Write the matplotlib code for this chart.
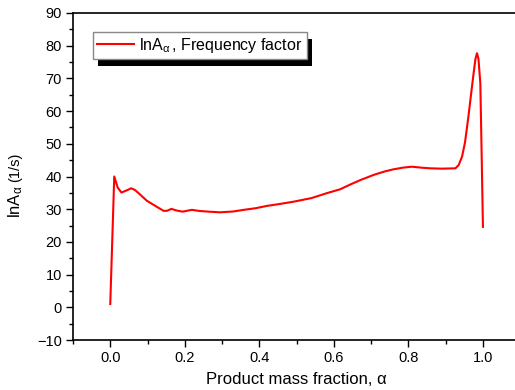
import matplotlib
matplotlib.use("Agg")
import matplotlib.pyplot as plt
from matplotlib.ticker import MultipleLocator, FormatStrFormatter
from matplotlib.patches import Rectangle

plt.rcParams['font.family'] = ['Liberation Sans', 'DejaVu Sans']
plt.rcParams['mathtext.fontset'] = 'custom'
plt.rcParams['mathtext.rm'] = 'Liberation Sans'
plt.rcParams['mathtext.it'] = 'Liberation Sans'

alpha = [0.0, 0.0107, 0.02, 0.03, 0.045, 0.056, 0.066, 0.076, 0.098, 0.121,
         0.143, 0.152, 0.164, 0.178, 0.194, 0.219, 0.24, 0.264, 0.295, 0.33,
         0.358, 0.39, 0.42, 0.455, 0.492, 0.54, 0.581, 0.617, 0.645, 0.671,
         0.707, 0.735, 0.76, 0.785, 0.809, 0.835, 0.859, 0.89, 0.926, 0.935,
         0.944, 0.952, 0.961, 0.968, 0.975, 0.98, 0.984, 0.988, 0.993, 0.997, 1.0]
lnA = [1.0, 40.0, 36.6, 35.1, 35.8, 36.4, 35.9, 34.9, 32.6, 31.0,
       29.5, 29.5, 30.1, 29.6, 29.25, 29.8, 29.45, 29.25, 29.05, 29.3,
       29.8, 30.3, 31.0, 31.6, 32.3, 33.4, 34.9, 36.1, 37.6, 38.9,
       40.5, 41.5, 42.2, 42.7, 43.0, 42.7, 42.5, 42.4, 42.5, 43.5,
       46.1, 50.5, 58.3, 65.0, 71.6, 76.0, 77.7, 76.0, 68.5, 44.0, 24.6]

W, H = 515, 390
fig = plt.figure(figsize=(W / 100, H / 100), dpi=100)
ax = fig.add_axes([73 / W, 50 / H, 447.2 / W, 327 / H])

ax.plot(alpha, lnA, color='red', lw=1.5,
        label=r'lnA$_{\mathrm{α}}\,$, Frequency factor')

ax.set_xlim(-0.1, 1.1)
ax.set_ylim(-10, 90)
ax.xaxis.set_major_locator(MultipleLocator(0.2))
ax.xaxis.set_minor_locator(MultipleLocator(0.1))
ax.yaxis.set_major_locator(MultipleLocator(10))
ax.yaxis.set_minor_locator(MultipleLocator(5))
ax.xaxis.set_major_formatter(FormatStrFormatter('%.1f'))
ax.tick_params(which='major', direction='out', length=5, width=1, labelsize=10.5, pad=3)
ax.tick_params(which='minor', direction='out', length=3, width=1)
for s in ax.spines.values():
    s.set_linewidth(1.2)

ax.set_xlabel('Product mass fraction, α', fontsize=12, labelpad=5)

# y label: "lnA_α" and smaller "(1/s)"
fig.text(16 / W, (H - 218) / H, r'lnA$_{\mathrm{α}}$', rotation=90,
         ha='center', va='bottom', fontsize=12)
fig.text(15 / W, (H - 182) / H, '(1/s)', rotation=90,
         ha='center', va='bottom', fontsize=10.5)

leg = ax.legend(loc='upper left', bbox_to_anchor=(20 / 447.2, (340 - 32) / 327),
                borderaxespad=0, fancybox=False, edgecolor='#888888', framealpha=1,
                fontsize=11.5, handlelength=2.3, handletextpad=0.35, borderpad=0.25)
leg.get_frame().set_linewidth(1.0)
leg.set_zorder(6)

fig.canvas.draw()
bb = leg.get_window_extent()
shadow = Rectangle((bb.x0 + 5, bb.y0 - 7), bb.width, bb.height, transform=None,
                   facecolor='black', edgecolor='none', zorder=5.5)
ax.add_artist(shadow)

fig.savefig('out.png', dpi=100)
